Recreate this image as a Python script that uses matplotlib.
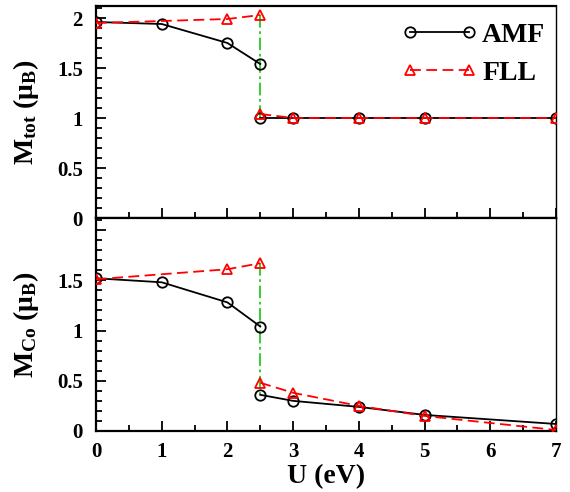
import matplotlib
matplotlib.use("Agg")
import matplotlib.pyplot as plt
from matplotlib.ticker import MultipleLocator

plt.rcParams['font.family'] = ['Liberation Serif', 'DejaVu Serif']
plt.rcParams['font.weight'] = 'bold'
plt.rcParams['mathtext.fontset'] = 'custom'
plt.rcParams['mathtext.rm'] = 'Liberation Serif:bold'
plt.rcParams['mathtext.it'] = 'Liberation Serif:italic:bold'
plt.rcParams['mathtext.bf'] = 'Liberation Serif:bold'

# ---- data ----
u_amf_lo = [0, 1, 2, 2.5]
u_amf_hi = [2.5, 3, 4, 5, 7]
u_fll_lo = [0, 2, 2.5]
u_fll_hi = [2.5, 3, 4, 5, 7]

mtot_amf_lo = [1.96, 1.94, 1.75, 1.54]
mtot_amf_hi = [1.00, 1.00, 1.00, 1.00, 1.00]
mtot_fll_lo = [1.95, 1.99, 2.03]
mtot_fll_hi = [1.04, 1.00, 1.00, 1.00, 1.00]

mco_amf_lo = [1.52, 1.48, 1.28, 1.04]
mco_amf_hi = [0.36, 0.30, 0.24, 0.16, 0.07]
mco_fll_lo = [1.51, 1.61, 1.67]
mco_fll_hi = [0.48, 0.38, 0.25, 0.15, 0.01]

x_ticks = [0, 1, 2, 3, 4, 5, 6, 7]
y_ticks = [0, 0.5, 1, 1.5, 2]
y_labels_top = ['0', '0.5', '1', '1.5', '2']
y_labels_bot = ['0', '0.5', '1', '1.5', '']
jump_u = 2.5

fig = plt.figure(figsize=(5.7, 4.92), dpi=100)
left, right = 96 / 570, 556 / 570
ax1 = fig.add_axes([left, 1 - 218 / 492, right - left, (218 - 6) / 492])
ax2 = fig.add_axes([left, 1 - 431 / 492, right - left, (431 - 218) / 492], sharex=ax1)

amf_kw = dict(color='black', lw=1.3, marker='o', ms=7.5, mfc='none', mec='black', mew=1.3)
fll_kw = dict(color='red', lw=1.3, ls=(0, (6, 3)), marker='^', ms=7.5, mfc='none', mec='red', mew=1.3)
green_kw = dict(color='#22cc22', lw=1.3, ls=(0, (7, 2, 1.5, 2)))

for ax, alo, ahi, flo, fhi, ylab, ylabels in [
        (ax1, mtot_amf_lo, mtot_amf_hi, mtot_fll_lo, mtot_fll_hi,
         r'M$_{\mathrm{tot}}$ (μ$_{\mathrm{B}}$)', y_labels_top),
        (ax2, mco_amf_lo, mco_amf_hi, mco_fll_lo, mco_fll_hi,
         r'M$_{\mathrm{Co}}$ (μ$_{\mathrm{B}}$)', y_labels_bot)]:
    ax.plot([jump_u, jump_u], [flo[-1], ahi[0]], **green_kw, zorder=1)
    ax.plot(u_amf_lo, alo, **amf_kw, zorder=3, label='AMF')
    ax.plot(u_amf_hi, ahi, **amf_kw, zorder=3)
    ax.plot(u_fll_lo, flo, **fll_kw, zorder=4, label='FLL')
    ax.plot(u_fll_hi, fhi, **fll_kw, zorder=4)
    ax.set_xlim(0, 7)
    ax.set_ylim(0, 2.12)
    ax.set_yticks(y_ticks)
    ax.set_yticklabels(ylabels)
    ax.yaxis.set_minor_locator(MultipleLocator(0.1))
    ax.xaxis.set_minor_locator(MultipleLocator(0.5))
    ax.set_xticks(x_ticks)
    ax.tick_params(which='both', direction='in', top=False, right=False,
                   labelsize=15, width=1.3)
    ax.tick_params(axis='y', which='major', pad=9.5)
    ax.tick_params(axis='x', which='major', pad=8)
    ax.tick_params(which='major', length=7)
    ax.tick_params(which='minor', length=4)
    for s in ['left', 'bottom', 'top']:
        ax.spines[s].set_linewidth(1.6)
    ax.spines['right'].set_linewidth(1.0)
    ax.set_ylabel(ylab, fontsize=20, fontweight='bold')
    for lab in ax.get_yticklabels() + ax.get_xticklabels():
        lab.set_fontweight('bold')

ax1.tick_params(labelbottom=False)
ax2.set_xlabel('U (eV)', fontsize=20, fontweight='bold', labelpad=1.5)
ax1.yaxis.set_label_coords(-0.12, 0.5)
ax2.yaxis.set_label_coords(-0.12, 0.5)

leg = ax1.legend(loc='upper right', frameon=False, numpoints=2,
                 handlelength=2.72, handletextpad=0.17, labelspacing=0.45,
                 borderaxespad=0.2, bbox_to_anchor=(1 + 6 / 460, 1.0),
                 prop={'weight': 'bold', 'size': 20})

fig.savefig('out.png', dpi=100)
